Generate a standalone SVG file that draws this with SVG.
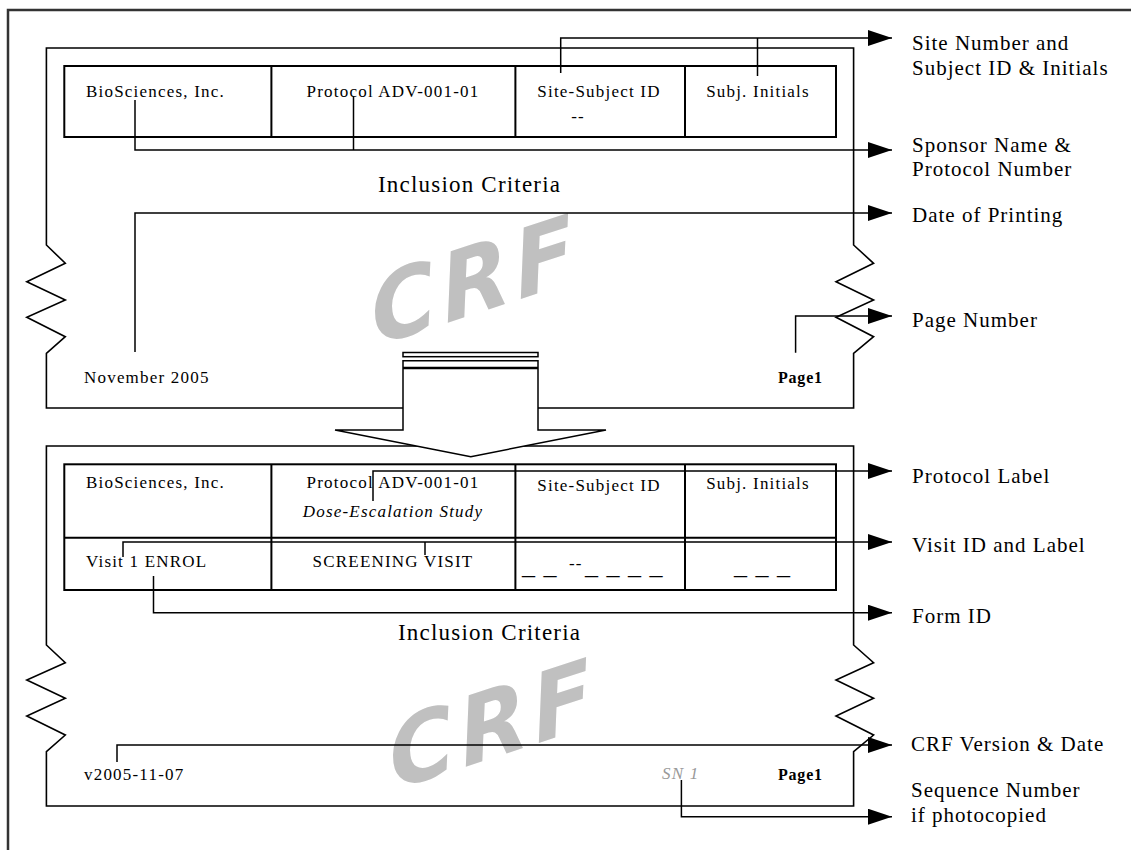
<svg xmlns="http://www.w3.org/2000/svg" width="1131" height="850" viewBox="0 0 1131 850">
<style>
text{font-family:"Liberation Serif","Times New Roman",serif;fill:#000}
.cell{font-size:17px;letter-spacing:1.2px}
.lbl{font-size:21px;letter-spacing:1px}
.head{font-size:23px;letter-spacing:1.2px}
.pg{font-size:16px;font-weight:bold;letter-spacing:0.8px}
.it{font-style:italic}
.sn{font-style:italic;fill:#999}
.mid{text-anchor:middle}
.dash{font-size:26px;letter-spacing:1px}
.wm{font-family:"DejaVu Sans",sans-serif;font-weight:bold;font-style:oblique;font-size:92px;letter-spacing:6px;fill:#c0c0c0}
.frame{fill:none;stroke:#333;stroke-width:2.5}
.page{fill:none;stroke:#000;stroke-width:1.6}
.tbl{fill:none;stroke:#000;stroke-width:2}
.conn{fill:none;stroke:#000;stroke-width:1.5}
.arr{marker-end:url(#ah)}
.big{fill:#fff;stroke:#000;stroke-width:1.5}
</style>
<defs>
<marker id="ah" markerUnits="userSpaceOnUse" viewBox="0 0 24 16" markerWidth="24" markerHeight="16" refX="24" refY="8" orient="auto">
<path d="M0,0 L24,8 L0,16 Z" fill="#000"/>
</marker>
</defs>
<rect width="1131" height="850" fill="#fff"/>
<path class="frame" d="M8,852 V10 H1133"/>

<g id="watermarks">
<text class="wm" x="0" y="0" transform="translate(376 346) rotate(-18) skewX(-10)">CRF</text>
<text class="wm" x="0" y="0" transform="translate(394 790) rotate(-18) skewX(-10)">CRF</text>
</g>

<g id="page-top">
<path class="page" d="M46.4,48 L853.6,48 L853.6,245 L873.6,263.3 L836,281.7 L873.6,300 L836,317.3 L873.6,336.7 L853.6,353.3 L853.6,408 L46.4,408 L46.4,353.3 L65.3,336.7 L26.8,317.3 L65.3,300 L26.8,281.7 L65.3,263.3 L46.4,245 Z"/>
<g id="table-top">
<rect class="tbl" x="64.3" y="66" width="771.7" height="71"/>
<path class="tbl" d="M271.4,66 V137 M515.4,66 V137 M685,66 V137"/>
<text class="cell" x="86" y="97">BioSciences, Inc.</text>
<text class="cell mid" x="393" y="97">Protocol ADV-001-01</text>
<text class="cell mid" x="599" y="97">Site-Subject ID</text>
<text class="cell mid" x="578" y="122">--</text>
<text class="cell mid" x="758" y="97">Subj. Initials</text>
</g>
<text class="head" x="378" y="192">Inclusion Criteria</text>
<text class="cell" x="84" y="383">November 2005</text>
<text class="pg" x="778" y="383">Page1</text>
</g>

<g id="page-bottom">
<path class="page" d="M46.4,446 L853.6,446 L853.6,645 L873.6,662.7 L836,680 L873.6,698.3 L836,716 L873.6,735 L853.6,751.7 L853.6,806 L46.4,806 L46.4,751.7 L65.3,735 L26.8,716 L65.3,698.3 L26.8,680 L65.3,662.7 L46.4,645 Z"/>
<g id="table-bottom">
<rect class="tbl" x="64.3" y="464.3" width="771.7" height="125.7"/>
<path class="tbl" d="M64.3,537.7 H836 M271.4,464.3 V590 M515.4,464.3 V590 M685,464.3 V590"/>
<text class="cell" x="86" y="488">BioSciences, Inc.</text>
<text class="cell mid" x="393" y="488">Protocol ADV-001-01</text>
<text class="cell mid it" x="393" y="517">Dose-Escalation Study</text>
<text class="cell mid" x="599" y="491">Site-Subject ID</text>
<text class="cell mid" x="758" y="489">Subj. Initials</text>
<text class="cell" x="86" y="567">Visit 1 ENROL</text>
<text class="cell mid" x="393" y="567">SCREENING VISIT</text>
<text class="dash" x="522" y="574">_ _<tspan x="569" y="569" style="font-size:17px;letter-spacing:1.2px">--</tspan><tspan x="585" y="574">_ _ _ _</tspan></text>
<text class="dash" x="734" y="574">_ _ _</text>
</g>
<text class="head" x="398" y="640">Inclusion Criteria</text>
<text class="cell" x="84" y="780">v2005-11-07</text>
<text class="cell sn" x="662" y="779">SN 1</text>
<text class="pg" x="778" y="780">Page1</text>
</g>

<g id="transition-arrow">
<polygon class="big" points="403,360.7 538,360.7 538,430 606,430 470.8,456.7 335,430 403,430"/>
<rect class="big" x="403" y="352.5" width="135" height="4.2"/>
<line x1="403" y1="368" x2="538" y2="368" stroke="#000" stroke-width="2.5"/>
</g>

<g id="connectors">
<path class="conn arr" d="M560.7,73 V38 H892"/>
<path class="conn" d="M757.5,76 V38"/>
<path class="conn arr" d="M135,100 V150 H892"/>
<path class="conn" d="M353.5,97 V150"/>
<path class="conn arr" d="M135,352 V213 H892"/>
<path class="conn arr" d="M795.6,352.7 V316 H892"/>
<path class="conn arr" d="M373,501 V471 H892"/>
<path class="conn arr" d="M123,557 V542 H892"/>
<path class="conn" d="M425,555 V542"/>
<path class="conn arr" d="M153.5,576 V612.7 H892"/>
<path class="conn arr" d="M117,762 V745 H892"/>
<path class="conn arr" d="M681.4,780 V816.7 H892"/>
</g>

<g id="labels">
<text class="lbl" x="912" y="50">Site Number and</text>
<text class="lbl" x="912" y="75">Subject ID &amp; Initials</text>
<text class="lbl" x="912" y="152">Sponsor Name &amp;</text>
<text class="lbl" x="912" y="176">Protocol Number</text>
<text class="lbl" x="912" y="222">Date of Printing</text>
<text class="lbl" x="912" y="327">Page Number</text>
<text class="lbl" x="912" y="483">Protocol Label</text>
<text class="lbl" x="912" y="552">Visit ID and Label</text>
<text class="lbl" x="912" y="623">Form ID</text>
<text class="lbl" x="911" y="751">CRF Version &amp; Date</text>
<text class="lbl" x="911" y="797">Sequence Number</text>
<text class="lbl" x="911" y="822">if photocopied</text>
</g>
</svg>
